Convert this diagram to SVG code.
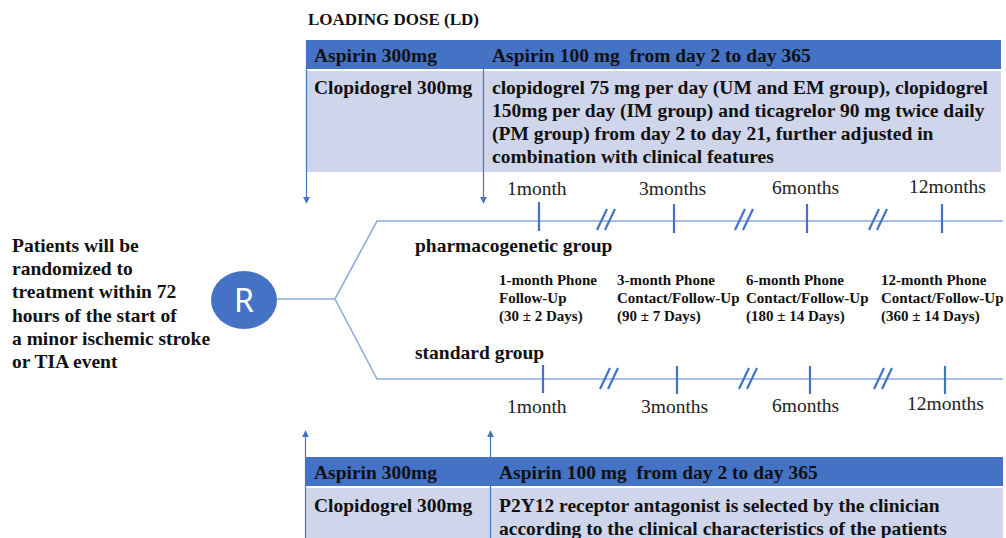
<svg xmlns="http://www.w3.org/2000/svg" width="1006" height="538" viewBox="0 0 1006 538">
<defs>
<style>
.b{font-family:"Liberation Serif","Times New Roman",serif;font-weight:bold;fill:#111}
.t{font-size:19.5px}
.w{font-size:19.5px}
.f{font-size:15px}
.m{font-family:"Liberation Serif","Times New Roman",serif;font-size:19.5px;fill:#222}
.pre{white-space:pre}
.hd{fill:#4472C4}
.rw{fill:#CFD5EA}
.ln{stroke:#8FAADC;stroke-width:1.6;fill:none}
.tk{stroke:#4472C4;stroke-width:2.2;fill:none}
.ar{stroke:#4472C4;stroke-width:1.2;fill:none}
</style>
<marker id="ah" viewBox="0 0 10 10" refX="9" refY="5" markerWidth="7" markerHeight="7" markerUnits="userSpaceOnUse" orient="auto">
<path d="M0,0 L10,5 L0,10 z" fill="#4472C4"/>
</marker>
<g id="sl"><path class="tk" d="M-5,10 L5,-11 M3,10 L13,-11"/></g>
</defs>
<rect width="1006" height="538" fill="#fff"/>

<g id="loading-label"><text class="b" x="308" y="25" font-size="17">LOADING DOSE (LD)</text></g>

<g id="top-table">
<rect class="hd" x="306" y="40" width="177" height="29"/>
<rect class="hd" x="484" y="40" width="517" height="29"/>
<rect class="rw" x="306" y="71" width="177" height="101"/>
<rect class="rw" x="484" y="71" width="517" height="101"/>
<text class="b t" x="314" y="62">Aspirin 300mg</text>
<text class="b t pre" x="492" y="62" xml:space="preserve">Aspirin 100 mg  from day 2 to day 365</text>
<text class="b t" x="314" y="94">Clopidogrel 300mg</text>
<text class="b t" x="492" y="94">clopidogrel 75 mg per day (UM and EM group), clopidogrel</text>
<text class="b t" x="492" y="117">150mg per day (IM group) and ticagrelor 90 mg twice daily</text>
<text class="b t" x="492" y="140">(PM group) from day 2 to day 21, further adjusted in</text>
<text class="b t" x="492" y="163">combination with clinical features</text>
</g>

<g id="bottom-table">
<rect class="hd" x="305" y="457" width="185" height="29"/>
<rect class="hd" x="491" y="457" width="512" height="29"/>
<rect class="rw" x="305" y="488" width="185" height="50"/>
<rect class="rw" x="491" y="488" width="512" height="50"/>
<text class="b t" x="314" y="479">Aspirin 300mg</text>
<text class="b t pre" x="499" y="479" xml:space="preserve">Aspirin 100 mg  from day 2 to day 365</text>
<text class="b t" x="314" y="512">Clopidogrel 300mg</text>
<text class="b t" x="499" y="512">P2Y12 receptor antagonist is selected by the clinician</text>
<text class="b t" x="499" y="535">according to the clinical characteristics of the patients</text>
</g>

<g id="patients">
<text class="b w" x="12" y="252">Patients will be</text>
<text class="b w" x="12" y="275">randomized to</text>
<text class="b w" x="12" y="298">treatment within 72</text>
<text class="b w" x="12" y="322">hours of the start of</text>
<text class="b w" x="12" y="345">a minor ischemic stroke</text>
<text class="b w" x="12" y="368">or TIA event</text>
</g>

<g id="R">
<ellipse cx="244" cy="300" rx="33" ry="29" fill="#4472C4"/>
<text x="244" y="312" text-anchor="middle" font-family="'Noto Sans','Open Sans',sans-serif" font-size="32" fill="#fff">R</text>
</g>

<g id="connectors">
<path class="ln" d="M277,299 H335 L377,221 H1003 M335,299 L377,379 H1003"/>
<path class="ar" d="M306.5,40 V203" marker-end="url(#ah)"/>
<path class="ar" d="M483.5,40 V203" marker-end="url(#ah)"/>
<path class="ar" d="M305.5,538 V431" marker-end="url(#ah)"/>
<path class="ar" d="M490.5,538 V431" marker-end="url(#ah)"/>
</g>

<g id="pharmacogenetic-timeline">
<path class="tk" d="M539,202 V231 M674,204 V233 M807,204 V233 M942,204 V233"/>
<use href="#sl" x="602" y="220"/>
<use href="#sl" x="740" y="220"/>
<use href="#sl" x="874" y="220"/>
<text class="m" x="507" y="195">1month</text>
<text class="m" x="639" y="195">3months</text>
<text class="m" x="772" y="194">6months</text>
<text class="m" x="909" y="193">12months</text>
<text class="b" x="415" y="252" font-size="19.5">pharmacogenetic group</text>
</g>

<g id="followups">
<text class="b f" x="499" y="285">1-month Phone</text>
<text class="b f" x="499" y="303">Follow-Up</text>
<text class="b f" x="499" y="321">(30 ± 2 Days)</text>
<text class="b f" x="617" y="285">3-month Phone</text>
<text class="b f" x="617" y="303">Contact/Follow-Up</text>
<text class="b f" x="617" y="321">(90 ± 7 Days)</text>
<text class="b f" x="746" y="285">6-month Phone</text>
<text class="b f" x="746" y="303">Contact/Follow-Up</text>
<text class="b f" x="746" y="321">(180 ± 14 Days)</text>
<text class="b f" x="881" y="285">12-month Phone</text>
<text class="b f" x="881" y="303">Contact/Follow-Up</text>
<text class="b f" x="881" y="321">(360 ± 14 Days)</text>
</g>

<g id="standard-timeline">
<text class="b" x="415" y="359" font-size="19.5">standard group</text>
<path class="tk" d="M543,365 V393 M677,366 V394 M810,366 V394 M945,366 V394"/>
<use href="#sl" x="605" y="379"/>
<use href="#sl" x="744" y="379"/>
<use href="#sl" x="879" y="379"/>
<text class="m" x="507" y="413">1month</text>
<text class="m" x="641" y="413">3months</text>
<text class="m" x="772" y="412">6months</text>
<text class="m" x="907" y="410">12months</text>
</g>
</svg>
